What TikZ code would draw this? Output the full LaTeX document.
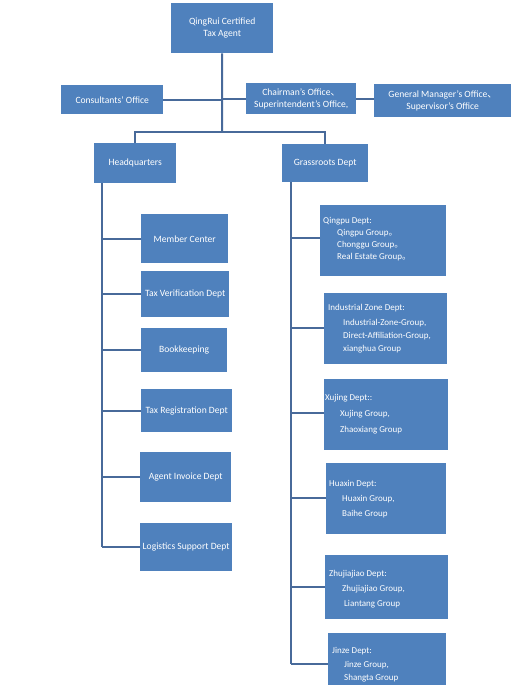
\documentclass[tikz,border=0pt]{standalone}
\usepackage{fontspec}
\setmainfont{Carlito}
\newfontfamily\cjk{Noto Sans CJK SC}
\definecolor{boxblue}{RGB}{79,129,189}
\definecolor{linkblue}{RGB}{72,106,154}
\begin{document}
\begin{tikzpicture}[x=1pt,y=-1pt,
  bx/.style={draw=none,fill=boxblue,inner sep=0pt,anchor=north west,text=white,align=center,font=\fontsize{9.6}{11.5}\selectfont},
  tx/.style={anchor=base west,inner sep=0pt,text=white,font=\fontsize{9}{11}\selectfont},
  link/.style={draw=linkblue,line width=2pt}]
\useasboundingbox (0,0) rectangle (518,685);
\newcommand{\mybox}[6]{\node[bx,minimum width={#4-#2},minimum height={#5-#3}] (#1) at (#2,#3) {#6};}
% top level
\mybox{top}{171}{3}{273}{53}{QingRui Certified\\Tax Agent}
\mybox{cons}{61}{85}{163}{114}{Consultants’ Office}
\mybox{chair}{246}{83}{356}{114}{Chairman’s Office{\cjk 、}\\Superintendent’s Office,}
\mybox{gm}{374}{84}{511}{117}{General Manager’s Office{\cjk 、}\\Supervisor’s Office}
\mybox{hq}{94}{143}{176}{183}{Headquarters}
\mybox{gr}{282}{144}{368}{182}{Grassroots Dept}
% left column
\mybox{mc}{141}{214}{228}{263}{Member Center}
\mybox{tv}{141}{271}{229}{317}{Tax Verification Dept}
\mybox{bk}{141}{328}{227}{372}{Bookkeeping}
\mybox{tr}{141}{389}{232}{432}{Tax Registration Dept}
\mybox{ai}{140}{452}{231}{502}{Agent Invoice Dept}
\mybox{ls}{140}{523}{232}{571}{Logistics Support Dept}
% right column
\mybox{qp}{320}{205}{446}{276}{}
\mybox{iz}{324}{293}{447}{364}{}
\mybox{xj}{324}{379}{448}{450}{}
\mybox{hx}{326}{463}{446}{534}{}
\mybox{zj}{325}{555}{448}{619}{}
\mybox{jz}{328}{633}{446}{690}{}
% texts of right column
\node[tx] (qp1) at (323,223) {Qingpu Dept:};
\node[tx] (qp2) at (337,235) {Qingpu Group{\cjk 。}};
\node[tx] (qp3) at (337,247) {Chonggu Group{\cjk 。}};
\node[tx] (qp4) at (337,259) {Real Estate Group{\cjk 。}};
\node[tx] (iz1) at (328,310) {Industrial Zone Dept:};
\node[tx] (iz2) at (343,325) {Industrial-Zone-Group,};
\node[tx] (iz3) at (343,338) {Direct-Af{}filiation-Group,};
\node[tx] (iz4) at (343,351) {xianghua Group};
\node[tx] (xj1) at (325,400) {Xujing Dept::};
\node[tx] (xj2) at (340,416) {Xujing Group,};
\node[tx] (xj3) at (340,432) {Zhaoxiang Group};
\node[tx] (hx1) at (329,486) {Huaxin Dept:};
\node[tx] (hx2) at (342,501) {Huaxin Group,};
\node[tx] (hx3) at (342,516) {Baihe Group};
\node[tx] (zj1) at (329,576) {Zhujiajiao Dept:};
\node[tx] (zj2) at (342,591) {Zhujiajiao Group,};
\node[tx] (zj3) at (344,606) {Liantang Group};
\node[tx] (jz1) at (332,653) {Jinze Dept:};
\node[tx] (jz2) at (344,667) {Jinze Group,};
\node[tx] (jz3) at (344,680) {Shangta Group};
% spine coordinates
\coordinate (mid) at (222,132);
\coordinate (lsp) at (102,183);
\coordinate (lend) at (102,547);
\coordinate (rsp) at (291,182);
\coordinate (rend) at (291,664);
% top connectors
\draw[link] (top.south) -- (mid);
\draw[link] (hq.north) -- (hq.north |- mid) -- (gr.north |- mid) -- (gr.north);
\draw[link] (cons.east) -- (cons.east -| top.south);
\draw[link] (chair.west) -- (chair.west -| top.south);
\draw[link] (chair.east) -- (chair.east -| gm.west);
% left spine
\draw[link] (lsp) -- (lend);
\foreach \b in {mc,tv,bk,tr,ai,ls} \draw[link] (\b.west) -- (\b.west -| lsp);
% right spine
\draw[link] (rsp) -- (rend);
\foreach \b/\yy in {qp/238,iz/328,xj/413,hx/498,zj/587} \draw[link] (\b.west |- 0,\yy) -- (rsp |- 0,\yy);
\draw[link] (jz.west |- rend) -- (rend);
\end{tikzpicture}
\end{document}
